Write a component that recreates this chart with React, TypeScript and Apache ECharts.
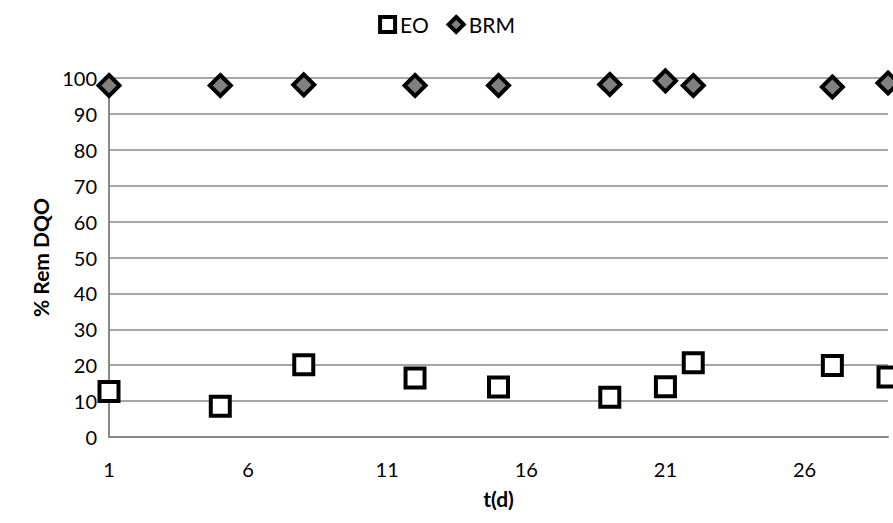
import React, { useEffect, useRef } from "react";
import * as echarts from "echarts";

const tDays = [1, 5, 8, 12, 15, 19, 21, 22, 27, 29];
const eoValues = [12.7, 8.6, 20.1, 16.4, 13.9, 11.1, 14.0, 20.7, 19.9, 16.7];
const brmValues = [97.9, 97.9, 98.1, 97.9, 97.9, 98.2, 99.2, 97.9, 97.5, 98.6];
const xLabelValues = [1, 6, 11, 16, 21, 26];
const seriesNames = ["EO", "BRM"];

const FONT = "Lato";

export default function App() {
  const ref = useRef<HTMLDivElement>(null);
  useEffect(() => {
    document.body.style.margin = "0";
    const chart = echarts.init(ref.current!, null, { renderer: "svg" });
    const eoData = tDays.map((t, i) => [t, eoValues[i]]);
    const brmData = tDays.map((t, i) => [t, brmValues[i]]);
    chart.setOption({
      animation: false,
      textStyle: { fontFamily: FONT },
      legend: {
        top: 9,
        left: "center",
        itemWidth: 15,
        itemHeight: 15,
        itemGap: 18,
        itemStyle: { borderWidth: 4, borderColor: "#000" },
        textStyle: { fontFamily: FONT, fontSize: 21, color: "#000" },
        data: seriesNames,
      },
      grid: { left: 109, right: 5, top: 78, bottom: 86, containLabel: false },
      xAxis: {
        type: "value",
        min: 1,
        max: 29,
        interval: 1,
        name: "t(d)",
        nameLocation: "middle",
        nameGap: 51,
        nameTextStyle: { fontFamily: FONT, fontSize: 21, fontWeight: "bold", color: "#000" },
        axisLine: { show: true, lineStyle: { color: "#888888", width: 2 } },
        axisTick: { show: false },
        splitLine: { show: false },
        axisLabel: {
          fontFamily: FONT,
          fontSize: 20,
          color: "#000",
          margin: 22,
          formatter: (v: number) => (xLabelValues.includes(v) ? String(v) : ""),
        },
      },
      yAxis: {
        type: "value",
        min: 0,
        max: 100,
        interval: 10,
        name: "% Rem DQO",
        nameLocation: "middle",
        nameGap: 52,
        nameTextStyle: { fontFamily: FONT, fontSize: 21, fontWeight: "bold", color: "#000" },
        axisLine: { show: true, lineStyle: { color: "#888888", width: 2 } },
        axisTick: { show: false },
        splitLine: { show: true, lineStyle: { color: "#a6a6a6", width: 2 } },
        axisLabel: { fontFamily: FONT, fontSize: 20, color: "#000", margin: 12 },
      },
      series: [
        {
          name: seriesNames[0],
          type: "scatter",
          symbol: "rect",
          symbolSize: 19,
          data: eoData,
          itemStyle: { color: "#ffffff", borderColor: "#000000", borderWidth: 4, opacity: 1 },
          z: 3,
        },
        {
          name: seriesNames[1],
          type: "scatter",
          symbol: "diamond",
          symbolSize: 21,
          data: brmData,
          itemStyle: { color: "#808080", borderColor: "#000000", borderWidth: 4, opacity: 1 },
          z: 4,
        },
      ],
    });
    return () => chart.dispose();
  }, []);
  return <div ref={ref} style={{ width: 893, height: 523 }} />;
}
